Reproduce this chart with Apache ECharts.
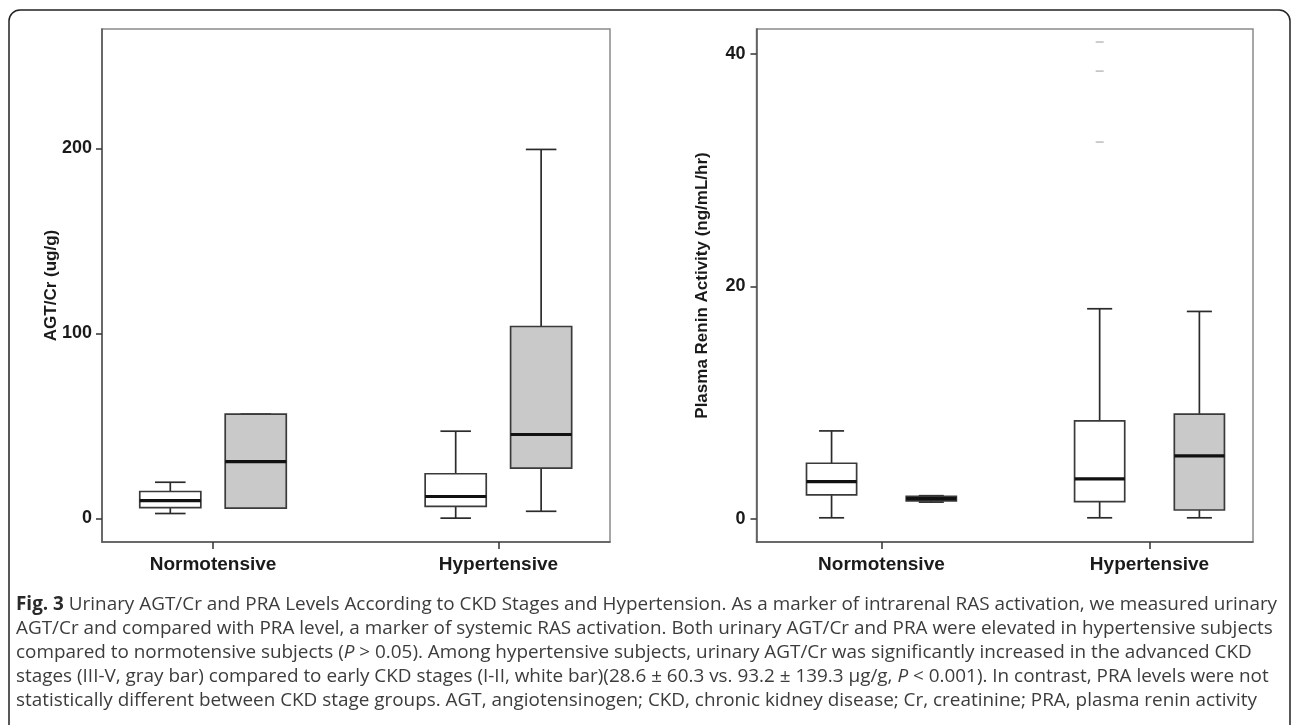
<!DOCTYPE html>
<html><head><meta charset="utf-8">
<script src="https://cdn.jsdelivr.net/npm/echarts@6/dist/echarts.min.js"></script>
<style>html,body{margin:0;padding:0;background:#fff;}#chart{width:1292px;height:725px;}</style>
</head><body><div id="chart"></div>
<script>
// ---------- data ----------
const categories = ['Normotensive', 'Hypertensive'];
// each entry: [min, Q1, median, Q3, max]
const agtEarly    = [[2.7, 5.9, 9.7, 14.6, 19.6], [0.2, 6.6, 11.9, 24.2, 47.2]];
const agtAdvanced = [[5.6, 5.6, 30.8, 56.4, 56.4], [3.9, 27.2, 45.4, 103.8, 199.5]];
const praEarly    = [[0.1, 2.07, 3.21, 4.79, 7.57], [0.1, 1.49, 3.44, 8.43, 18.07]];
const praAdvanced = [[1.45, 1.55, 1.75, 1.95, 2.0], [0.1, 0.77, 5.42, 9.01, 17.84]];
// outliers: [category index, value] (hypertensive, early CKD stage)
const praOutliers = [[1, 41.0], [1, 38.5], [1, 32.4]];
const agtTicks = [0, 100, 200];
const praTicks = [0, 20, 40];
const agtTitle = 'AGT/Cr (ug/g)';
const praTitle = 'Plasma Renin Activity (ng/mL/hr)';
const captionLines = [
  '{b|Fig. 3} Urinary AGT/Cr and PRA Levels According to CKD Stages and Hypertension. As a marker of intrarenal RAS activation, we measured urinary',
  'AGT/Cr and compared with PRA level, a marker of systemic RAS activation. Both urinary AGT/Cr and PRA were elevated in hypertensive subjects',
  'compared to normotensive subjects ({i|P} > 0.05). Among hypertensive subjects, urinary AGT/Cr was significantly increased in the advanced CKD',
  'stages (III-V, gray bar) compared to early CKD stages (I-II, white bar)(28.6 ± 60.3 vs. 93.2 ± 139.3 μg/g, {i|P} < 0.001). In contrast, PRA levels were not',
  'statistically different between CKD stage groups. AGT, angiotensinogen; CKD, chronic kidney disease; Cr, creatinine; PRA, plasma renin activity'
];

// ---------- rendering ----------
const toRows = arr => arr.map((d, i) => [i].concat(d));

function boxRender(offset, widthUnits, fill) {
  return function (params, api) {
    const c = api.value(0) + offset;
    const mn = api.value(1), q1 = api.value(2), md = api.value(3), q3 = api.value(4), mx = api.value(5);
    const w = api.size([widthUnits, 0])[0];
    const x0 = api.coord([c, 0])[0];
    const y = v => api.coord([c, v])[1];
    const ls = { stroke: '#2b2b2b', lineWidth: 1.7 };
    const cap = w / 4;
    return {
      type: 'group',
      children: [
        { type: 'line', shape: { x1: x0, y1: y(mx), x2: x0, y2: y(q3) }, style: ls },
        { type: 'line', shape: { x1: x0, y1: y(mn), x2: x0, y2: y(q1) }, style: ls },
        { type: 'line', shape: { x1: x0 - cap, y1: y(mx), x2: x0 + cap, y2: y(mx) }, style: ls },
        { type: 'line', shape: { x1: x0 - cap, y1: y(mn), x2: x0 + cap, y2: y(mn) }, style: ls },
        { type: 'rect', shape: { x: x0 - w / 2, y: y(q3), width: w, height: y(q1) - y(q3) },
          style: { fill: fill, stroke: '#3a3a3a', lineWidth: 1.7 } },
        { type: 'line', shape: { x1: x0 - w / 2, y1: y(md), x2: x0 + w / 2, y2: y(md) },
          style: { stroke: '#111', lineWidth: 3.2 } }
      ]
    };
  };
}
function outlierRender(offset) {
  return function (params, api) {
    const p = api.coord([api.value(0) + offset, api.value(1)]);
    return { type: 'line', shape: { x1: p[0] - 4, y1: p[1], x2: p[0] + 4, y2: p[1] },
             style: { stroke: '#bdbdbd', lineWidth: 1.5 } };
  };
}

const axisLineStyle = { color: '#555', width: 1.5 };
const boldFont = 'Liberation Sans, Arial';
function xAxisCfg(gi, min, max) {
  return {
    type: 'value', gridIndex: gi, min: min, max: max,
    axisLine: { show: true, onZero: false, lineStyle: axisLineStyle },
    axisTick: { show: true, customValues: [0, 1], length: 7, lineStyle: { color: '#333', width: 1.5 } },
    axisLabel: { customValues: [0, 1], formatter: v => categories[Math.round(v)],
      fontFamily: boldFont, fontWeight: 'bold', fontSize: 19, color: '#1a1a1a', margin: 13 },
    splitLine: { show: false }
  };
}
function yAxisCfg(gi, min, max, ticks, name, gap, margin) {
  return {
    type: 'value', gridIndex: gi, min: min, max: max,
    axisLine: { show: true, onZero: false, lineStyle: axisLineStyle },
    axisTick: { show: true, customValues: ticks, length: 6, lineStyle: { color: '#333', width: 1.5 } },
    axisLabel: { customValues: ticks, fontFamily: boldFont, fontWeight: 'bold',
      fontSize: 18, color: '#1a1a1a', margin: margin },
    splitLine: { show: false },
    name: name, nameLocation: 'middle', nameGap: gap, nameRotate: 90, nameMoveOverlap: false,
    nameTextStyle: { fontFamily: boldFont, fontWeight: 'bold', fontSize: 17, color: '#1a1a1a' }
  };
}

const titles = captionLines.map((t, i) => ({
  text: t, left: 11, top: 590 + i * 24, padding: [5, 5, 5, 5],
  textStyle: {
    fontFamily: 'Open Sans', fontSize: 18.9, fontWeight: 'normal', color: '#3c3c3c',
    rich: {
      b: { fontFamily: 'Open Sans', fontSize: 18.9, fontWeight: 'bold', color: '#2a2a2a' },
      i: { fontFamily: 'Open Sans', fontSize: 18.9, fontStyle: 'italic', color: '#3c3c3c' }
    }
  }
}));

const option = {
  backgroundColor: '#fff',
  animation: false,
  title: titles,
  graphic: [{
    type: 'rect', shape: { x: 9, y: 10, width: 1281, height: 760, r: [11, 11, 0, 0] },
    style: { fill: 'none', stroke: '#222', lineWidth: 1.5 }, silent: true, z: 0
  }],
  grid: [
    { left: 102, right: 682, top: 29, bottom: 183, show: true, borderColor: '#8a8a8a', borderWidth: 1.5, outerBoundsMode: 'none' },
    { left: 756.5, right: 39, top: 29, bottom: 183, show: true, borderColor: '#8a8a8a', borderWidth: 1.5, outerBoundsMode: 'none' }
  ],
  xAxis: [xAxisCfg(0, -0.389, 1.391), xAxisCfg(1, -0.466, 1.386)],
  yAxis: [yAxisCfg(0, -12.7, 264.6, agtTicks, agtTitle, 42, 10), yAxisCfg(1, -1.98, 42.12, praTicks, praTitle, 46, 11)],
  series: [
    { type: 'custom', xAxisIndex: 0, yAxisIndex: 0, renderItem: boxRender(-0.1497, 0.214, '#ffffff'),
      data: toRows(agtEarly), encode: { x: 0, y: [1, 2, 3, 4, 5] } },
    { type: 'custom', xAxisIndex: 0, yAxisIndex: 0, renderItem: boxRender(0.1497, 0.214, '#c9c9c9'),
      data: toRows(agtAdvanced), encode: { x: 0, y: [1, 2, 3, 4, 5] } },
    { type: 'custom', xAxisIndex: 1, yAxisIndex: 1, renderItem: boxRender(-0.186, 0.187, '#ffffff'),
      data: toRows(praEarly), encode: { x: 0, y: [1, 2, 3, 4, 5] } },
    { type: 'custom', xAxisIndex: 1, yAxisIndex: 1, renderItem: boxRender(0.186, 0.187, '#c9c9c9'),
      data: toRows(praAdvanced), encode: { x: 0, y: [1, 2, 3, 4, 5] } },
    { type: 'custom', xAxisIndex: 1, yAxisIndex: 1, renderItem: outlierRender(-0.186),
      data: praOutliers, encode: { x: 0, y: 1 } }
  ]
};
const chart = echarts.init(document.getElementById('chart'), null, { renderer: 'canvas' });
chart.setOption(option);
</script></body></html>
